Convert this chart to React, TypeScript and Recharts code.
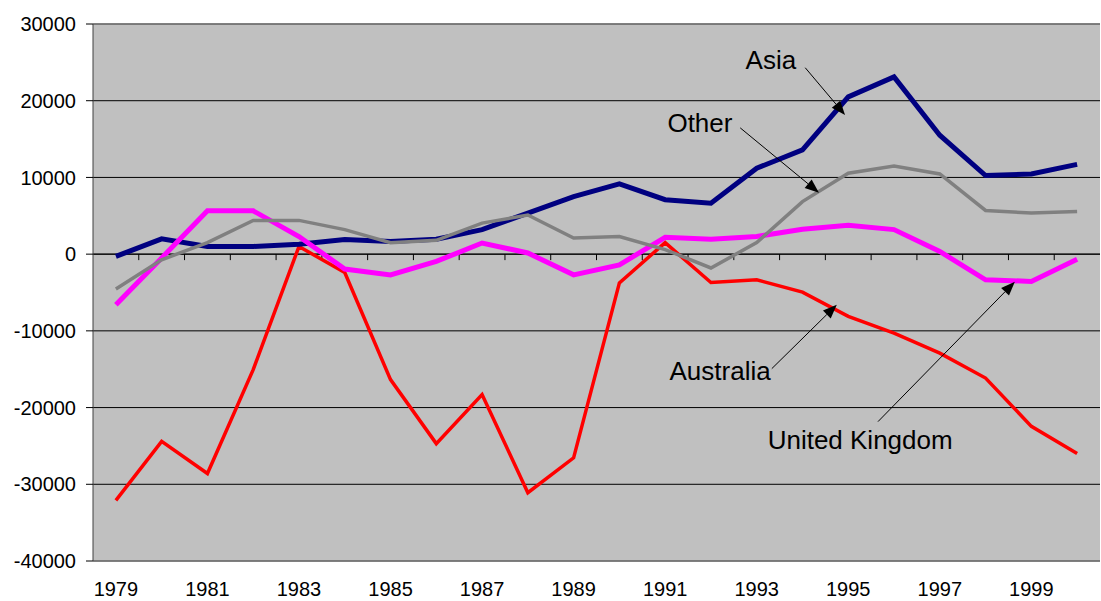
import React from 'react';
import { LineChart, Line, XAxis, YAxis, CartesianGrid, ReferenceLine, ReferenceDot } from 'recharts';

const years = [1979, 1980, 1981, 1982, 1983, 1984, 1985, 1986, 1987, 1988, 1989, 1990, 1991, 1992, 1993, 1994, 1995, 1996, 1997, 1998, 1999, 2000];
const asia = [-300, 2000, 1000, 1000, 1300, 1900, 1650, 1950, 3200, 5350, 7500, 9150, 7100, 6650, 11200, 13600, 20500, 23100, 15500, 10250, 10450, 11700];
const other = [-4550, -730, 1500, 4400, 4400, 3200, 1500, 1800, 4050, 5100, 2100, 2300, 600, -1800, 1500, 6850, 10550, 11500, 10450, 5700, 5350, 5550];
const unitedKingdom = [-6600, -500, 5650, 5650, 2300, -1950, -2700, -950, 1450, 150, -2700, -1400, 2200, 1950, 2300, 3250, 3750, 3200, 350, -3350, -3550, -650];
const australia = [-32100, -24400, -28600, -15050, 1000, -2400, -16350, -24700, -18300, -31100, -26550, -3750, 1500, -3700, -3350, -4950, -8100, -10300, -12900, -16150, -22450, -26000];

const yTicks = [-40000, -30000, -20000, -10000, 0, 10000, 20000, 30000];
const xTicks = [1979, 1981, 1983, 1985, 1987, 1989, 1991, 1993, 1995, 1997, 1999];
const boundaries = years.slice(0, -1).map((y) => y + 0.5);

// annotation text + arrow (start -> tip), in data units
const notes = [
  { text: 'Asia', tx: 1993.31, ty: 25300, x1: 1994.06, y1: 24300, x2: 1994.93, y2: 18150 },
  { text: 'Other', tx: 1991.76, ty: 17110, x1: 1992.64, y1: 16460, x2: 1994.36, y2: 8000 },
  { text: 'Australia', tx: 1992.2, ty: -15185, x1: 1993.33, y1: -14925, x2: 1994.75, y2: -6590 },
  { text: 'United Kingdom', tx: 1995.26, ty: -24170, x1: 1995.65, y1: -21830, x2: 1998.64, y2: -3595 },
];

const data = years.map((year, i) => ({
  year,
  asia: asia[i],
  other: other[i],
  uk: unitedKingdom[i],
  australia: australia[i],
}));

const font = '"Liberation Sans", Arial, sans-serif';

const Arrow = (props: any) => {
  const { x1, y1, x2, y2 } = props;
  const dx = x2 - x1;
  const dy = y2 - y1;
  const len = Math.sqrt(dx * dx + dy * dy) || 1;
  const ux = dx / len;
  const uy = dy / len;
  const head = 14;
  const half = 5.5;
  const bx = x2 - ux * head;
  const by = y2 - uy * head;
  const pts = `${x2},${y2} ${bx - uy * half},${by + ux * half} ${bx + uy * half},${by - ux * half}`;
  return (
    <g>
      <line x1={x1} y1={y1} x2={bx} y2={by} stroke="#000" strokeWidth={1} />
      <polygon points={pts} fill="#000" />
    </g>
  );
};

const App: React.FC = () => {
  return (
    <div style={{ position: 'absolute', left: 0, top: 0, background: '#fff' }}>
      <LineChart width={1101} height={601} data={data} margin={{ top: 24, right: 1, left: 0, bottom: 0 }}>
        <CartesianGrid horizontal vertical={false} stroke="#000" fill="#C0C0C0" fillOpacity={1} />
        <XAxis
          dataKey="year"
          type="number"
          domain={[1978.5, 2000.5]}
          ticks={xTicks}
          interval={0}
          axisLine={false}
          tickLine={false}
          tickSize={0}
          tickMargin={21}
          height={40}
          tick={{ fontSize: 20, fill: '#000', fontFamily: font }}
        />
        <YAxis
          type="number"
          domain={[-40000, 30000]}
          ticks={yTicks}
          interval={0}
          width={93}
          axisLine={{ stroke: '#404040' }}
          tickLine={{ stroke: '#000' }}
          tickSize={7}
          tickMargin={10}
          tick={{ fontSize: 20, fill: '#000', fontFamily: font }}
        />
        <ReferenceLine y={30000} stroke="#808080" strokeWidth={1.5} />
        <ReferenceLine y={-40000} stroke="#808080" strokeWidth={1.5} />
        <ReferenceLine y={0} stroke="#000" strokeWidth={1} />
        {boundaries.map((b) => (
          <ReferenceLine key={b} segment={[{ x: b, y: 0 }, { x: b, y: -780 }]} stroke="#000" strokeWidth={1} />
        ))}
        <Line dataKey="australia" stroke="#FF0000" strokeWidth={3.5} dot={false} isAnimationActive={false} />
        <Line dataKey="asia" stroke="#000080" strokeWidth={5} dot={false} isAnimationActive={false} />
        <Line dataKey="uk" stroke="#FF00FF" strokeWidth={5} dot={false} isAnimationActive={false} />
        <Line dataKey="other" stroke="#808080" strokeWidth={3.5} dot={false} isAnimationActive={false} />
        {notes.map((n) => (
          <ReferenceLine
            key={n.text + '-arrow'}
            segment={[{ x: n.x1, y: n.y1 }, { x: n.x2, y: n.y2 }]}
            shape={(p: any) => <Arrow {...p} />}
          />
        ))}
        {notes.map((n) => (
          <ReferenceDot
            key={n.text}
            x={n.tx}
            y={n.ty}
            r={0}
            shape={(p: any) => (
              <text x={p.cx} y={p.cy} textAnchor="middle" dominantBaseline="central" fontSize={26} fontFamily={font} fill="#000">
                {n.text}
              </text>
            )}
          />
        ))}
      </LineChart>
    </div>
  );
};

export default App;
